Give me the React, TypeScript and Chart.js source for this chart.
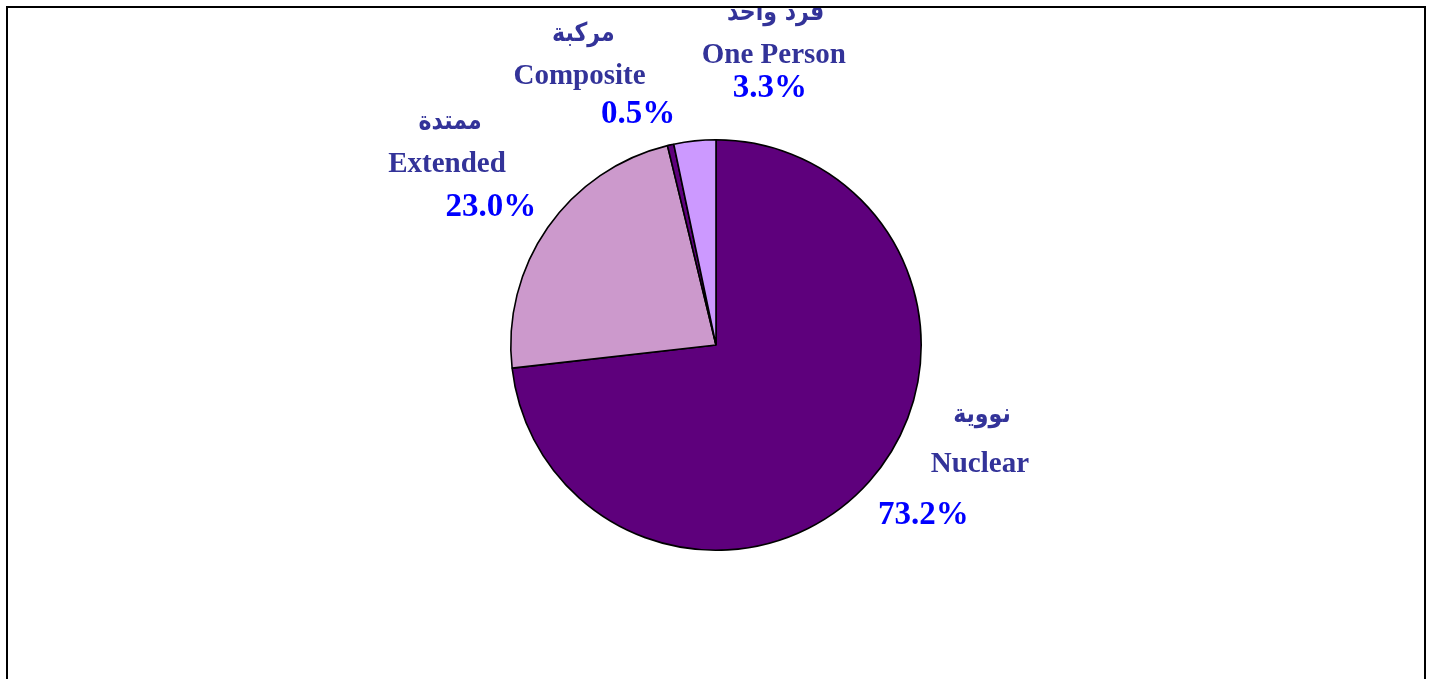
import React, { useEffect, useRef } from "react";
import { Chart, registerables } from "chart.js";

Chart.register(...registerables);

// ---- data ----
const categoriesEn = ["Nuclear", "Extended", "Composite", "One Person"];
const categoriesAr = ["نووية", "ممتدة", "مركبة", "فرد واحد"];
const shares = [73.2, 23.0, 0.5, 3.3];
const shareLabels = ["73.2%", "23.0%", "0.5%", "3.3%"];

// ---- styles ----
const sliceColors = ["#5E007C", "#CC99CC", "#5E007C", "#CC99FF"];
const nameColor = "#333399";
const pctColor = "#0000FF";

// label anchors (centre-x, baseline-y) in units of pie radius, relative to pie centre
const arabicPos = [
  [1.296, 0.374],
  [-1.296, -1.053],
  [-0.646, -1.481],
  [0.291, -1.583],
];
const englishPos = [
  [1.286, 0.617],
  [-1.311, -0.845],
  [-0.665, -1.272],
  [0.282, -1.374],
];
const pctPos = [
  [1.01, 0.874],
  [-1.097, -0.631],
  [-0.379, -1.083],
  [0.262, -1.209],
];

const labelPlugin = {
  id: "sliceLabels",
  afterDraw(chart: any) {
    const ctx = chart.ctx as CanvasRenderingContext2D;
    const meta = chart.getDatasetMeta(0);
    const arc = meta.data[0] as any;
    if (!arc) return;
    const cx = arc.x;
    const cy = arc.y;
    const r = arc.outerRadius;
    const W = chart.width;
    const H = chart.height;

    ctx.save();
    ctx.beginPath();
    ctx.rect(8, 8, W - 15, H);
    ctx.clip();
    ctx.textAlign = "center";
    ctx.textBaseline = "alphabetic";
    for (let i = 0; i < categoriesEn.length; i++) {
      ctx.fillStyle = nameColor;
      ctx.save();
      ctx.font = "bold 26px 'DejaVu Sans'";
      ctx.direction = "rtl";
      ctx.translate(cx + arabicPos[i][0] * r, cy + arabicPos[i][1] * r);
      ctx.scale(0.85, 1);
      ctx.fillText(categoriesAr[i], 0, 0);
      ctx.restore();
      ctx.direction = "ltr";
      ctx.font = "bold 29px 'Liberation Serif'";
      ctx.fillText(categoriesEn[i], cx + englishPos[i][0] * r, cy + englishPos[i][1] * r);
      ctx.fillStyle = pctColor;
      ctx.font = "bold 33px 'Liberation Serif'";
      ctx.fillText(shareLabels[i], cx + pctPos[i][0] * r, cy + pctPos[i][1] * r);
    }
    ctx.restore();

    // outer frame
    ctx.save();
    ctx.strokeStyle = "#000000";
    ctx.lineWidth = 2;
    ctx.strokeRect(7, 7, W - 13, H + 20);
    ctx.restore();
  },
};

export default function App() {
  const canvasRef = useRef<HTMLCanvasElement | null>(null);

  useEffect(() => {
    if (!canvasRef.current) return;
    const chart = new Chart(canvasRef.current, {
      type: "pie",
      data: {
        labels: categoriesEn,
        datasets: [
          {
            data: shares,
            backgroundColor: sliceColors,
            borderColor: "#000000",
            borderWidth: 1.6,
          },
        ],
      },
      options: {
        animation: false,
        responsive: true,
        maintainAspectRatio: false,
        layout: { padding: { top: 139, bottom: 128, left: 510, right: 509 } },
        plugins: {
          legend: { display: false },
          tooltip: { enabled: false },
        },
      },
      plugins: [labelPlugin],
    });
    return () => chart.destroy();
  }, []);

  return (
    <div
      style={{
        position: "absolute",
        left: 0,
        top: 0,
        width: 1431,
        height: 679,
        background: "#ffffff",
      }}
    >
      <canvas ref={canvasRef} />
    </div>
  );
}
